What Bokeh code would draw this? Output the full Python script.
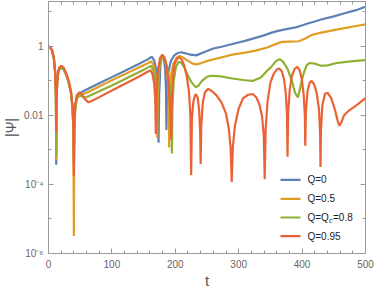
import numpy as np
from bokeh.plotting import figure
from bokeh.models import (LinearAxis, LogAxis, FixedTicker, SingleIntervalTicker,
                          CustomJSTickFormatter, Label, BoxAnnotation, Range1d)
from bokeh.embed import file_html
from bokeh.resources import INLINE

# ---- data: (t, log10 |Psi|) ----
q0 = [(0,0),(3,-0.03),(6,-0.14),(8.5,-0.35),(10.5,-0.75),(11.7,-1.4),(12.2,-3.43),(12.8,-1.5),(13.8,-1.0),
      (15.5,-0.75),(17.5,-0.64),(20.5,-0.62),(24,-0.67),(28,-0.83),(32,-1.06),(35.5,-1.36),(38,-1.8),(39.3,-2.4),
      (40,-3.5),(40.7,-2.4),(42,-1.8),(44,-1.5),(47,-1.38),(50.6,-1.34),(60,-1.25),(80,-1.07),(100,-0.89),
      (120,-0.71),(140,-0.53),(155,-0.39),(163,-0.30),(167,-0.42),(170,-0.70),(172.3,-1.25),(173.6,-2.79),
      (174.6,-1.4),(176.5,-0.55),(179.5,-0.25),(182,-0.35),(184,-0.65),(185.3,-1.2),(186,-2.42),(187,-1.3),
      (189,-0.75),(193,-0.42),(198,-0.27),(204,-0.19),(209,-0.17),(216,-0.2),(224,-0.24),(233,-0.26),
      (245,-0.17),(260,-0.06),(273,-0.01),(290,0.07),(310,0.16),(325,0.24),(340,0.32),(352,0.40),(362,0.45),
      (375,0.50),(390,0.55),(397,0.59),(410,0.67),(420,0.72),(430,0.78),(450,0.87),(467,0.96),(485,1.05),(500,1.15)]

q05 = [(0,0),(3,-0.03),(6,-0.14),(8.5,-0.35),(10.5,-0.75),(11.7,-1.4),(12.2,-3.29),(12.8,-1.5),(13.8,-1.0),
       (15.5,-0.74),(17.5,-0.63),(20.5,-0.61),(24,-0.66),(28,-0.82),(32,-1.05),(35.5,-1.35),(38,-1.8),(39.3,-2.4),
       (40,-5.49),(40.7,-2.4),(42,-1.85),(44,-1.55),(47,-1.45),(51,-1.41),(60,-1.34),(80,-1.16),(100,-0.98),
       (120,-0.81),(140,-0.63),(155,-0.5),(162,-0.43),(166,-0.55),(169,-0.85),(170.7,-1.4),(171.5,-2.65),
       (172.5,-1.4),(175,-0.6),(179.5,-0.27),(183,-0.33),(186,-0.55),(188.5,-1.0),(189.6,-1.6),(190.3,-2.93),
       (191,-1.5),(193,-0.85),(197,-0.5),(202,-0.33),(207,-0.28),(213,-0.33),(220,-0.42),(228,-0.5),(233,-0.52),
       (240,-0.49),(251,-0.42),(272,-0.32),(290,-0.24),(310,-0.18),(325,-0.13),(345,-0.03),(360,0.08),
       (368,0.13),(380,0.14),(395,0.15),(405,0.23),(415,0.33),(430,0.40),(450,0.47),(467,0.53),(485,0.59),(500,0.64)]

q08 = [(0,0),(3,-0.03),(6,-0.14),(8.5,-0.35),(10.5,-0.75),(11.7,-1.4),(12.2,-3.17),(12.8,-1.5),(13.8,-1.0),
       (15.5,-0.73),(17.5,-0.62),(20.5,-0.59),(24,-0.65),(28,-0.81),(32,-1.04),(35.5,-1.34),(38,-1.8),(39.3,-2.4),
       (40,-3.3),(40.7,-2.4),(42,-1.85),(44.5,-1.52),(48,-1.42),(53,-1.45),(58,-1.48),(65,-1.43),(80,-1.3),
       (100,-1.13),(120,-0.95),(140,-0.77),(155,-0.63),(162,-0.56),(166,-0.72),(169,-1.1),(170.5,-2.5),
       (171.5,-1.3),(174,-0.6),(179.5,-0.28),(184,-0.4),(188,-0.7),(191.5,-1.2),(193.8,-1.9),(194.6,-3.1),
       (195.4,-1.8),(197.5,-1.0),(201,-0.6),(205,-0.45),(209,-0.46),(214,-0.6),(220,-0.85),(226,-1.05),
       (232,-1.18),(236,-1.15),(242,-1.0),(250,-0.88),(257,-0.85),(272,-0.87),(290,-0.93),(310,-0.98),
       (322,-1.0),(335,-0.9),(345,-0.7),(351,-0.6),(358,-0.44),(364,-0.37),(369,-0.42),(377,-0.65),(384,-1.0),
       (389,-1.35),(393.5,-1.48),(397,-1.2),(402,-0.8),(407,-0.55),(412,-0.48),(420,-0.5),(430,-0.56),
       (440,-0.55),(455,-0.48),(470,-0.45),(485,-0.42),(500,-0.40)]

q095 = [(0,0),(3,-0.03),(6,-0.14),(8.5,-0.35),(10.5,-0.75),(11.7,-1.4),(12.2,-2.5),(12.8,-1.45),(13.8,-0.98),
        (15.5,-0.71),(17.5,-0.6),(20.5,-0.56),(24,-0.62),(28,-0.78),(32,-1.0),(35.5,-1.3),(38,-1.75),(39.3,-2.35),
        (40,-3.75),(40.7,-2.3),(42,-1.7),(44.5,-1.42),(49,-1.33),(53,-1.40),(57,-1.52),(63,-1.62),(68,-1.58),
        (75,-1.52),(100,-1.28),(120,-1.09),(140,-0.9),(155,-0.75),(161,-0.69),(164,-0.8),(166.5,-1.05),
        (168.3,-1.5),(169.3,-2.54),(170.3,-1.4),(172.5,-0.7),(176,-0.33),(179.5,-0.24),(183,-0.32),(186,-0.55),
        (188.5,-0.9),(190.5,-1.4),(192.5,-2.0),(193.5,-2.7),(194.3,-1.6),(196,-0.95),(199,-0.5),(203,-0.35),
        (206,-0.32),(210,-0.38),(214,-0.55),(218,-0.85),(221.5,-1.3),(223.8,-2.0),(225,-3.73),(226.2,-2.1),
        (228.5,-1.6),(231,-1.42),(233,-1.39),(235.5,-1.5),(237.8,-1.9),(239.2,-2.5),(240,-3.41),(241,-2.3),
        (243.5,-1.6),(247,-1.32),(252,-1.23),(258,-1.3),(265,-1.42),(273,-1.63),(280,-1.95),(284.5,-2.4),
        (287.3,-2.95),(289,-3.93),(290.8,-2.9),(294,-2.3),(300,-1.8),(307,-1.5),(315,-1.4),(322,-1.38),
        (328,-1.48),(333,-1.7),(337,-2.05),(339.6,-2.6),(341,-3.85),(342.5,-2.4),(345.5,-1.6),(350,-1.05),
        (355,-0.8),(360,-0.67),(364,-0.64),(368,-0.72),(371.5,-0.95),(374.5,-1.4),(376.2,-2.0),(377,-3.2),
        (378,-1.95),(380.5,-1.25),(384,-0.85),(388,-0.66),(392,-0.59),(396,-0.68),(399.5,-0.95),(402.5,-1.4),
        (404.3,-2.0),(405,-2.88),(406,-1.9),(408.5,-1.3),(412,-1.05),(415,-1.0),(419,-1.1),(423,-1.35),
        (426.5,-1.8),(428.4,-2.5),(429,-3.49),(429.8,-2.4),(432,-1.7),(436,-1.38),(440,-1.34),(446,-1.5),
        (452,-1.85),(456,-2.15),(459,-2.3),(462,-2.2),(466,-2.0),(473,-1.87),(480,-1.78),(486,-1.70),
        (493,-1.6),(500,-1.5)]

series = [q0, q05, q08, q095]
colors = ["#5E81B5", "#E19C24", "#8FB032", "#EB6235"]
legend_labels = ["Q=0", "Q=0.5", None, "Q=0.95"]

x_major = 100
y_major_exps = [-6, -4, -2, 0]
y_major_labels = ["10\u207b\u2076", "10\u207b\u2074", "0.01", "1"]
y_minor_exps = [-5, -3, -1, 1]

AX = "#9a9a9a"
LBL = "#666666"
FONT = "Liberation Sans"

p = figure(frame_width=317, frame_height=252, x_range=Range1d(0, 500), y_range=Range1d(1e-6, 20),
           y_axis_type="log", output_backend="svg", toolbar_location=None,
           min_border_left=48, min_border_right=9, min_border_top=1, min_border_bottom=38,
           styles={"position": "absolute", "left": "0px", "top": "0px"})
p.grid.visible = False
p.outline_line_color = None
p.background_fill_color = "white"
p.border_fill_color = "white"

for s, c in zip(series, colors):
    t = np.array([a for a, b in s], dtype=float)
    v = 10.0 ** np.array([b for a, b in s], dtype=float)
    p.line(t, v, line_color=c, line_width=2.2, line_join="bevel")

yticks = [10.0 ** e for e in y_major_exps]
yminor = [10.0 ** e for e in y_minor_exps]
fmt_code = """
const e = Math.round(Math.log10(tick));
const i = exps.indexOf(e);
return i >= 0 ? labels[i] : "";
"""
blank_code = 'return "";'

def style_axis(ax, labels=True):
    ax.axis_line_color = AX
    ax.major_tick_line_color = AX
    ax.minor_tick_line_color = AX
    ax.major_tick_in = 5
    ax.major_tick_out = 0
    ax.minor_tick_in = 3
    ax.minor_tick_out = 0
    ax.major_label_text_font = FONT
    ax.major_label_text_font_size = "10px"
    ax.major_label_text_color = LBL
    if labels:
        ax.major_label_standoff = 5
    else:
        ax.major_label_standoff = 0
        ax.formatter = CustomJSTickFormatter(code=blank_code)

xa = p.xaxis[0]
xa.ticker = SingleIntervalTicker(interval=x_major, num_minor_ticks=5)
style_axis(xa)
xa.major_label_standoff = 6
xa.axis_label = "t"
xa.axis_label_text_font = FONT
xa.axis_label_text_font_size = "15px"
xa.axis_label_text_font_style = "normal"
xa.axis_label_text_color = "#555555"
xa.axis_label_standoff = 1

ya = p.yaxis[0]
ya.ticker = FixedTicker(ticks=yticks, minor_ticks=yminor)
ya.formatter = CustomJSTickFormatter(args=dict(exps=y_major_exps, labels=y_major_labels), code=fmt_code)
style_axis(ya)
ya.major_label_standoff = 5
ya.axis_label = "|\u03a8|"
ya.axis_label_text_font = FONT
ya.axis_label_text_font_size = "14px"
ya.axis_label_text_font_style = "normal"
ya.axis_label_text_color = "#555555"
ya.axis_label_standoff = 2

top = LinearAxis(ticker=SingleIntervalTicker(interval=x_major, num_minor_ticks=5))
style_axis(top, labels=False)
p.add_layout(top, "above")
right = LogAxis(ticker=FixedTicker(ticks=yticks, minor_ticks=yminor))
style_axis(right, labels=False)
p.add_layout(right, "right")

# ---- legend (screen units, relative to frame bottom-left) ----
rows_y = [73.7, 54.7, 36.0, 17.3]
for c, ry, lab in zip(colors, rows_y, legend_labels):
    p.add_layout(BoxAnnotation(left=232, right=252, bottom=ry - 1.1, top=ry + 1.1,
                               left_units="screen", right_units="screen",
                               bottom_units="screen", top_units="screen",
                               fill_color=c, fill_alpha=1.0, line_color=None))
    if lab is not None:
        p.add_layout(Label(x=259, y=ry, x_units="screen", y_units="screen", text=lab,
                           text_baseline="middle", text_font=FONT, text_font_size="10px",
                           text_color="#222222"))
ry = rows_y[2]
p.add_layout(Label(x=259, y=ry, x_units="screen", y_units="screen", text="Q=Q",
                   text_baseline="middle", text_font=FONT, text_font_size="10px", text_color="#222222"))
p.add_layout(Label(x=280.5, y=ry - 3, x_units="screen", y_units="screen", text="c",
                   text_baseline="middle", text_font=FONT, text_font_size="7.5px",
                   text_font_style="italic", text_color="#222222"))
p.add_layout(Label(x=284.5, y=ry, x_units="screen", y_units="screen", text="=0.8",
                   text_baseline="middle", text_font=FONT, text_font_size="10px", text_color="#222222"))

open("out.html", "w").write(file_html(p, INLINE))
